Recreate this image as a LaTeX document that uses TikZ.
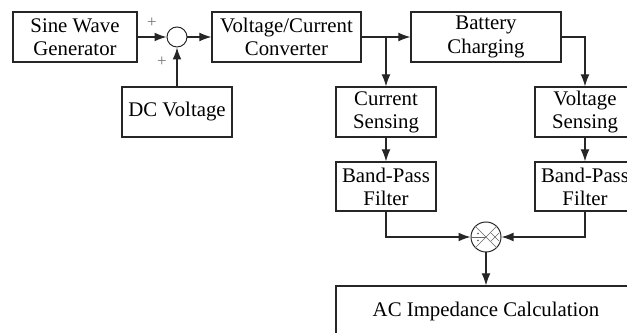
\documentclass[tikz,border=0pt]{standalone}
\usepackage{fontspec}
\setmainfont{Liberation Serif}
\usepackage{tikz}
\usetikzlibrary{arrows.meta, positioning, calc}

\begin{document}
\begin{tikzpicture}[
  x=0.025cm, y=-0.025cm,
  every node/.style={font=\fontsize{14.8}{16.5}\selectfont},
  block/.style={draw=black!85, line width=0.8pt, align=center, minimum height=1.25cm, inner sep=2pt},
  junction/.style={draw=black!85, line width=0.7pt, circle, inner sep=0pt},
  arrow/.style={-{Latex[length=3mm, width=2.2mm]}, line width=0.8pt, color=black!85},
  line/.style={line width=0.8pt, color=black!85},
  sign/.style={font=\fontsize{12}{13}\selectfont, text=black!55, inner sep=1pt}
]
  \useasboundingbox (0,0) rectangle (627,333);

  % Sorgente e sommatore
  \node[block, minimum width=3.1cm] (sine) at (75,37) {Sine Wave\\Generator};
  \node[junction, minimum size=0.5cm] (sum) at (177,37) {};
  \node[block, minimum width=2.75cm] (dc) at (177,112) {DC Voltage};
  \node[sign] (plusa) at (152,23) {+};
  \node[sign] (plusb) at (162,62) {+};

  % Conversione e carica
  \node[block, minimum width=3.725cm] (conv) at (286.5,37) {Voltage/Current\\Converter};
  \node[block, minimum width=3.75cm] (batt) at (486,37) {Battery\\Charging};
  \coordinate (split) at (386,37);

  % Misure
  \node[block, minimum width=2.5cm] (cursens) at (386,112) {Current\\Sensing};
  \node[block, minimum width=2.5cm] (volsens) at (585,112) {Voltage\\Sensing};
  \node[block, minimum width=2.5cm, minimum height=1.225cm] (curbpf) at (386,186.5) {Band-Pass\\Filter};
  \node[block, minimum width=2.5cm, minimum height=1.225cm] (volbpf) at (585,186.5) {Band-Pass\\Filter};

  % Divisore e calcolo
  \node[junction, minimum size=0.75cm] (div) at (486,237) {};
  \draw[black!60, line width=0.4pt] (div.north west) -- (div.south east);
  \draw[black!60, line width=0.4pt] (div.south west) -- (div.north east);
  \draw[black!60, line width=0.4pt] (div.west) -- (div.center);
  \draw[black!60, line width=0.4pt] ([shift={(5,-4)}]div.center) -- ([shift={(13,4)}]div.center);
  \draw[black!60, line width=0.4pt] ([shift={(5,4)}]div.center) -- ([shift={(13,-4)}]div.center);
  \fill[black!70] ([shift={(-8,-3.5)}]div.center) circle (0.6pt);
  \fill[black!70] ([shift={(-8,3.5)}]div.center) circle (0.6pt);
  \node[block, minimum width=7.5cm] (acimp) at (486,311) {AC Impedance Calculation};

  % Frecce
  \draw[arrow] (sine) -- (sum);
  \draw[arrow] (dc) -- (sum);
  \draw[arrow] (sum) -- (conv);
  \draw[line] (conv) -- (split);
  \draw[arrow] (split) -- (batt);
  \draw[arrow] (split) -- (cursens);
  \draw[arrow] (batt) -| (volsens);
  \draw[arrow] (cursens) -- (curbpf);
  \draw[arrow] (volsens) -- (volbpf);
  \draw[arrow] (curbpf) |- (div);
  \draw[arrow] (volbpf) |- (div);
  \draw[arrow] (div) -- (acimp);

\end{tikzpicture}
\end{document}
